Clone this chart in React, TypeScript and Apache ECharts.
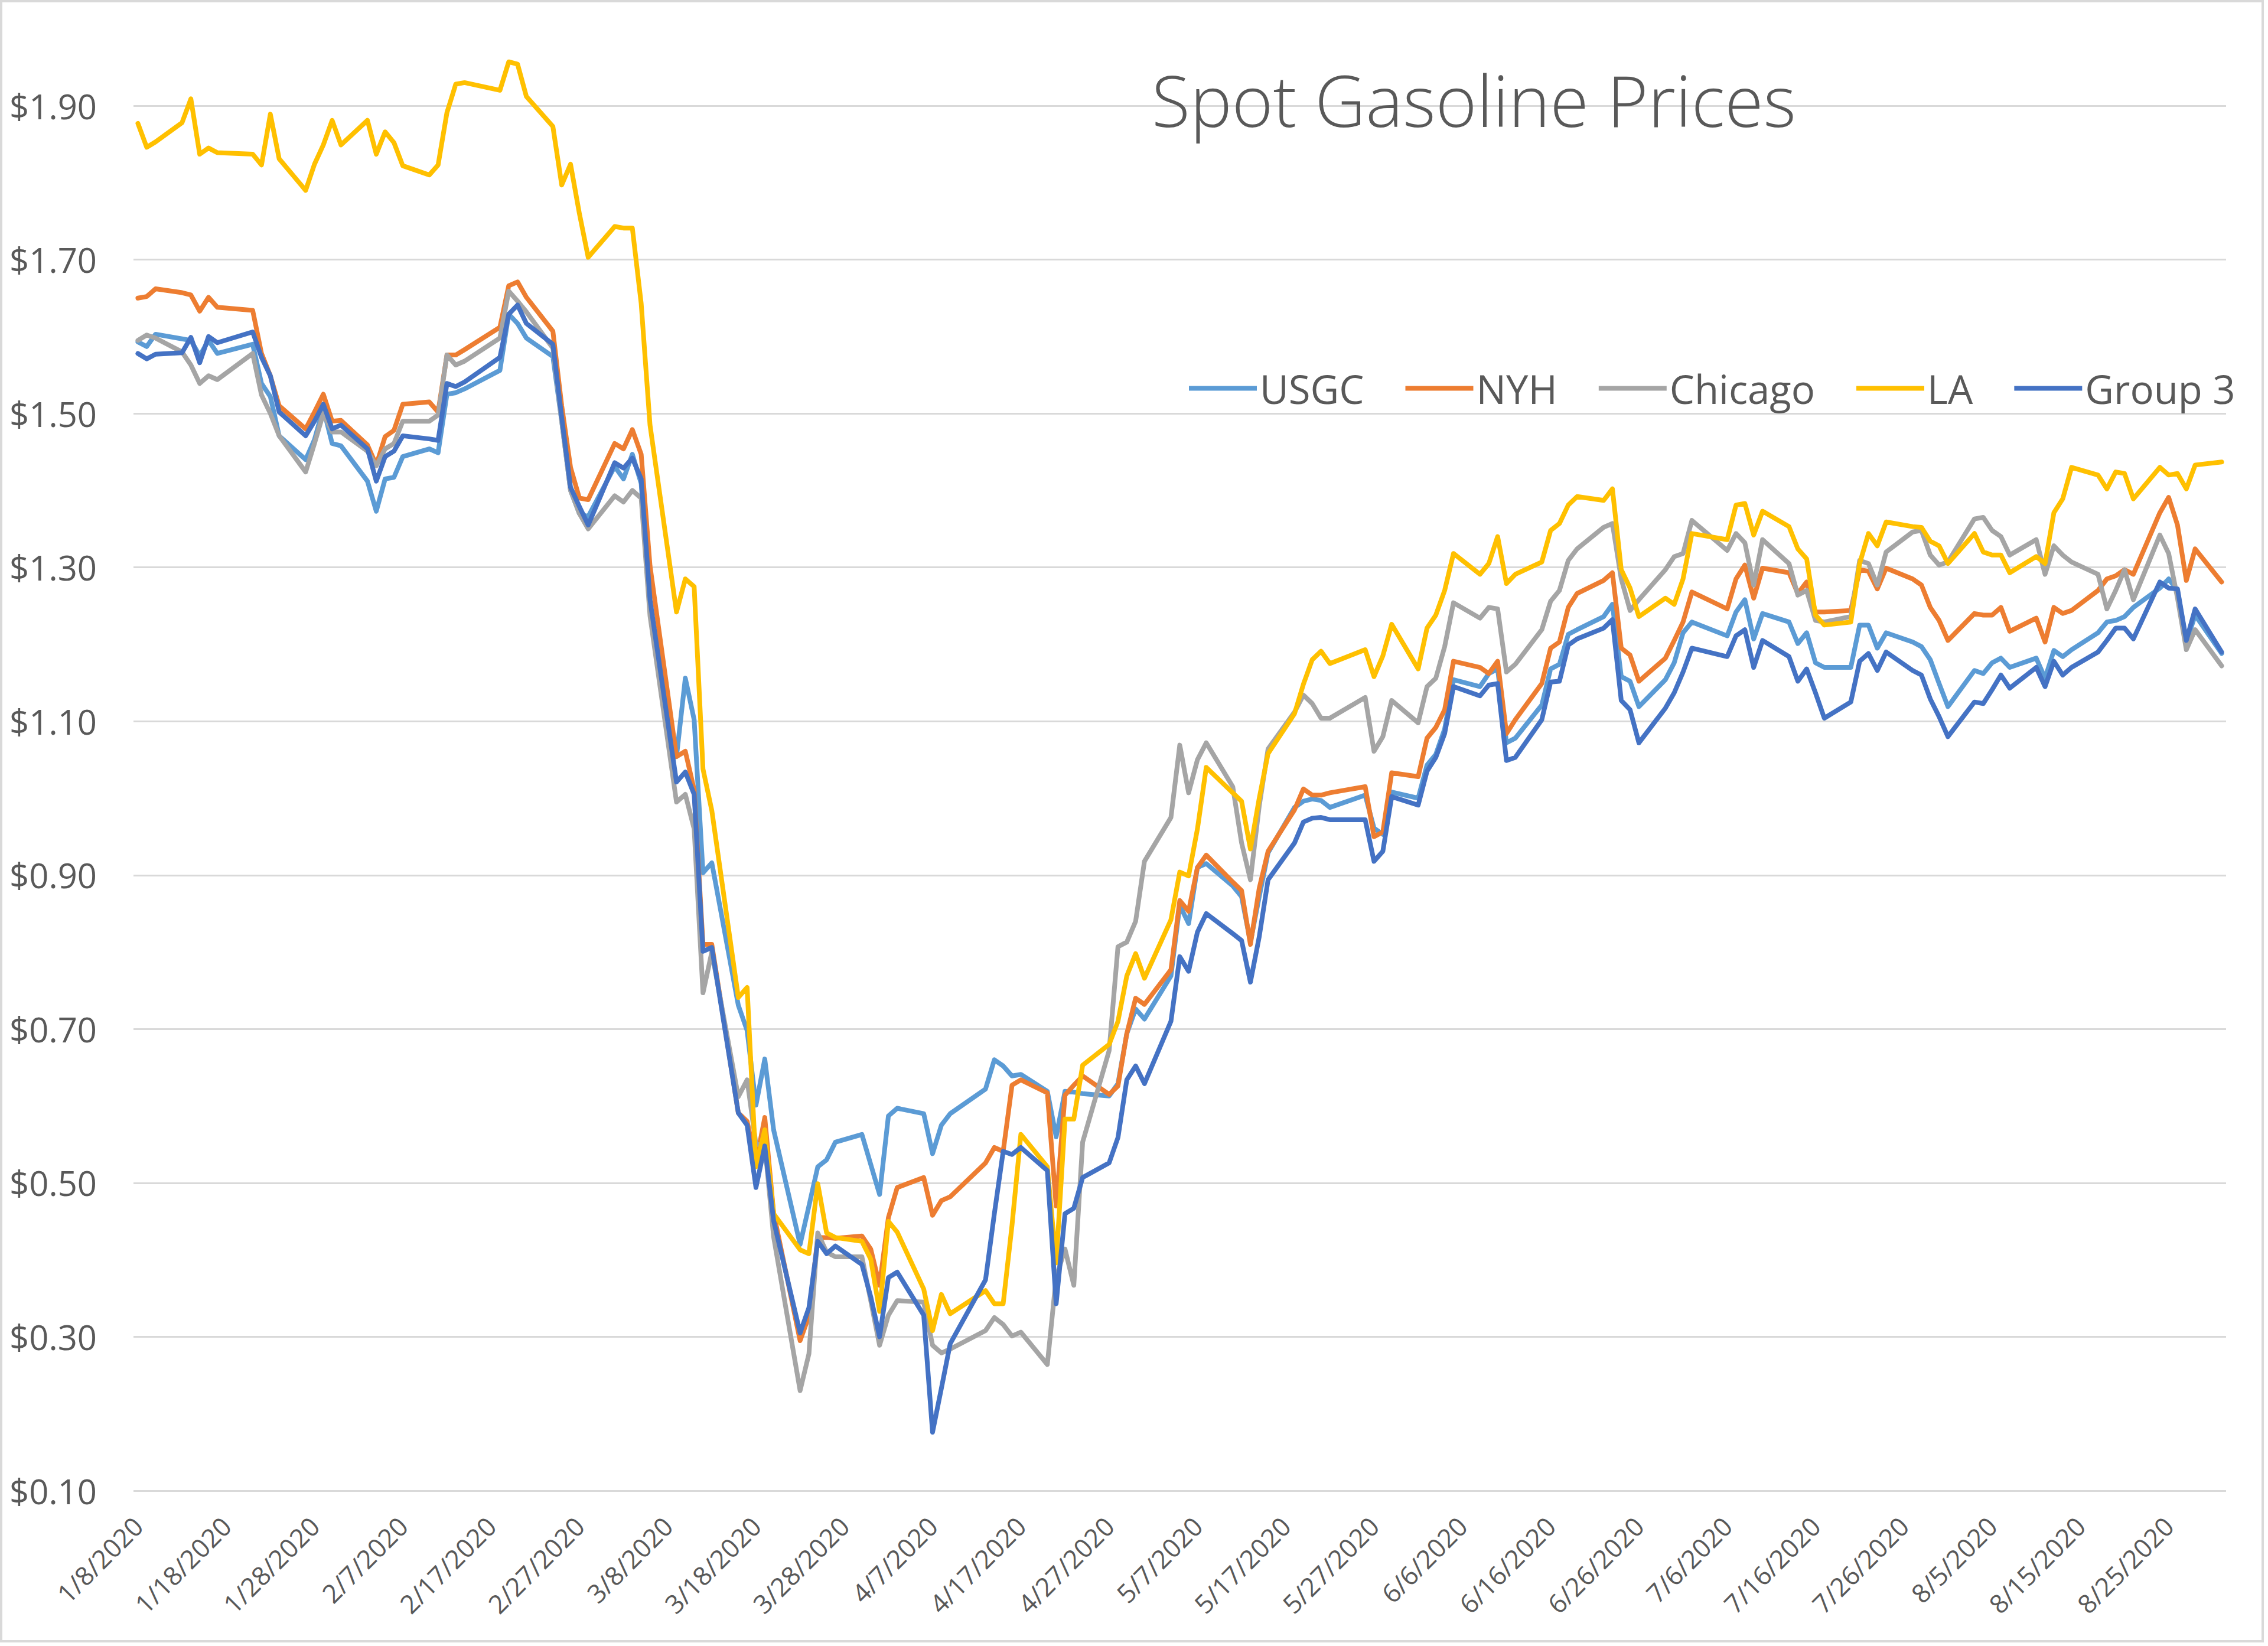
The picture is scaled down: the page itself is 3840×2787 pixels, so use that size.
import React, { useEffect, useRef } from "react";
import * as echarts from "echarts";

// Business days with data (M/D/2020)
const dates = [
  // Jan
  "1/8/2020","1/9/2020","1/10/2020","1/13/2020","1/14/2020","1/15/2020","1/16/2020","1/17/2020","1/21/2020","1/22/2020","1/23/2020","1/24/2020","1/27/2020","1/28/2020","1/29/2020","1/30/2020","1/31/2020",
  // Feb
  "2/3/2020","2/4/2020","2/5/2020","2/6/2020","2/7/2020","2/10/2020","2/11/2020","2/12/2020","2/13/2020","2/14/2020","2/18/2020","2/19/2020","2/20/2020","2/21/2020","2/24/2020","2/25/2020","2/26/2020","2/27/2020","2/28/2020",
  // Mar
  "3/2/2020","3/3/2020","3/4/2020","3/5/2020","3/6/2020","3/9/2020","3/10/2020","3/11/2020","3/12/2020","3/13/2020","3/16/2020","3/17/2020","3/18/2020","3/19/2020","3/20/2020","3/23/2020","3/24/2020","3/25/2020","3/26/2020","3/27/2020","3/30/2020","3/31/2020",
  // Apr
  "4/1/2020","4/2/2020","4/3/2020","4/6/2020","4/7/2020","4/8/2020","4/9/2020","4/13/2020","4/14/2020","4/15/2020","4/16/2020","4/17/2020","4/20/2020","4/21/2020","4/22/2020","4/23/2020","4/24/2020","4/27/2020","4/28/2020","4/29/2020","4/30/2020",
  // May
  "5/1/2020","5/4/2020","5/5/2020","5/6/2020","5/7/2020","5/8/2020","5/11/2020","5/12/2020","5/13/2020","5/14/2020","5/15/2020","5/18/2020","5/19/2020","5/20/2020","5/21/2020","5/22/2020","5/26/2020","5/27/2020","5/28/2020","5/29/2020",
  // Jun
  "6/1/2020","6/2/2020","6/3/2020","6/4/2020","6/5/2020","6/8/2020","6/9/2020","6/10/2020","6/11/2020","6/12/2020","6/15/2020","6/16/2020","6/17/2020","6/18/2020","6/19/2020","6/22/2020","6/23/2020","6/24/2020","6/25/2020","6/26/2020","6/29/2020","6/30/2020",
  // Jul
  "7/1/2020","7/2/2020","7/6/2020","7/7/2020","7/8/2020","7/9/2020","7/10/2020","7/13/2020","7/14/2020","7/15/2020","7/16/2020","7/17/2020","7/20/2020","7/21/2020","7/22/2020","7/23/2020","7/24/2020","7/27/2020","7/28/2020","7/29/2020","7/30/2020","7/31/2020",
  // Aug
  "8/3/2020","8/4/2020","8/5/2020","8/6/2020","8/7/2020","8/10/2020","8/11/2020","8/12/2020","8/13/2020","8/14/2020","8/17/2020","8/18/2020","8/19/2020","8/20/2020","8/21/2020","8/24/2020","8/25/2020","8/26/2020","8/27/2020","8/28/2020","8/31/2020",
];

const usgc = [
  1.593,1.587,1.603,1.597,1.595,1.575,1.595,1.578,1.590,1.539,1.522,1.471,1.440,1.466,1.507,1.461,1.458,
  1.412,1.373,1.415,1.417,1.444,1.454,1.449,1.525,1.527,1.532,1.556,1.629,1.617,1.598,1.574,1.490,1.400,1.370,1.366,
  1.431,1.415,1.447,1.409,1.248,1.054,1.156,1.102,0.903,0.916,0.731,0.698,0.601,0.661,0.569,0.420,0.470,0.521,0.530,0.553,0.563,0.524,
  0.485,0.587,0.597,0.590,0.538,0.575,0.590,0.622,0.660,0.652,0.639,0.641,0.619,0.560,0.619,0.618,0.616,0.613,0.629,0.694,0.726,
  0.713,0.769,0.861,0.837,0.910,0.915,0.886,0.872,0.813,0.872,0.929,0.988,0.996,0.999,0.997,0.988,1.004,0.961,0.953,1.008,
  1.000,1.043,1.057,1.090,1.154,1.145,1.162,1.168,1.072,1.078,1.121,1.168,1.174,1.213,1.219,1.236,1.252,1.158,1.152,1.119,1.154,1.176,
  1.215,1.229,1.211,1.242,1.258,1.207,1.240,1.229,1.201,1.215,1.176,1.170,1.170,1.225,1.225,1.195,1.215,1.203,1.197,1.180,1.149,1.119,
  1.166,1.162,1.176,1.182,1.170,1.182,1.156,1.192,1.184,1.193,1.215,1.229,1.231,1.236,1.248,1.273,1.285,1.270,1.203,1.238,1.188,
];

const nyh = [
  1.650,1.652,1.662,1.657,1.654,1.633,1.651,1.638,1.634,1.578,1.549,1.510,1.480,1.502,1.525,1.490,1.491,
  1.459,1.433,1.470,1.478,1.512,1.515,1.502,1.576,1.576,1.583,1.612,1.666,1.671,1.651,1.607,1.510,1.430,1.390,1.388,
  1.461,1.454,1.479,1.447,1.302,1.054,1.061,1.011,0.810,0.810,0.591,0.580,0.526,0.585,0.461,0.295,0.327,0.429,0.429,0.428,0.431,0.414,
  0.367,0.455,0.494,0.507,0.458,0.477,0.482,0.526,0.546,0.541,0.627,0.634,0.617,0.470,0.614,0.627,0.639,0.615,0.626,0.694,0.740,
  0.732,0.777,0.867,0.853,0.910,0.926,0.891,0.880,0.810,0.883,0.931,0.985,1.012,1.004,1.004,1.007,1.015,0.950,0.956,1.033,
  1.028,1.078,1.092,1.115,1.178,1.170,1.162,1.178,1.084,1.102,1.149,1.195,1.203,1.248,1.266,1.283,1.293,1.195,1.186,1.152,1.182,1.205,
  1.229,1.268,1.246,1.285,1.303,1.260,1.299,1.293,1.266,1.281,1.242,1.242,1.244,1.297,1.295,1.272,1.299,1.285,1.277,1.248,1.231,1.205,
  1.240,1.238,1.238,1.248,1.217,1.234,1.203,1.248,1.240,1.244,1.270,1.285,1.289,1.297,1.291,1.371,1.391,1.355,1.283,1.324,1.281,
];

const chicago = [
  1.595,1.602,1.598,1.580,1.563,1.539,1.549,1.544,1.578,1.524,1.500,1.471,1.424,1.461,1.500,1.476,1.476,
  1.451,1.432,1.454,1.461,1.490,1.490,1.498,1.576,1.563,1.568,1.598,1.659,1.646,1.632,1.585,1.490,1.400,1.370,1.350,
  1.393,1.385,1.400,1.390,1.237,0.995,1.005,0.960,0.747,0.800,0.612,0.634,0.550,0.550,0.430,0.230,0.278,0.435,0.410,0.404,0.404,0.347,
  0.289,0.328,0.347,0.345,0.289,0.279,0.284,0.308,0.325,0.316,0.301,0.306,0.264,0.377,0.414,0.367,0.553,0.672,0.807,0.813,0.840,
  0.918,0.975,1.069,1.007,1.050,1.072,1.015,0.942,0.894,0.990,1.064,1.112,1.134,1.123,1.104,1.104,1.131,1.061,1.080,1.127,
  1.098,1.145,1.156,1.197,1.254,1.234,1.248,1.246,1.164,1.174,1.219,1.256,1.270,1.309,1.324,1.352,1.357,1.285,1.244,1.258,1.297,1.314,
  1.318,1.361,1.322,1.344,1.332,1.277,1.336,1.305,1.264,1.270,1.231,1.229,1.236,1.309,1.305,1.277,1.320,1.346,1.348,1.316,1.303,1.307,
  1.363,1.365,1.348,1.340,1.316,1.336,1.291,1.328,1.316,1.307,1.291,1.246,1.270,1.297,1.258,1.342,1.318,1.260,1.193,1.219,1.172,
];

const la = [
  1.877,1.846,1.853,1.878,1.909,1.837,1.845,1.839,1.837,1.823,1.889,1.831,1.790,1.824,1.849,1.881,1.849,
  1.881,1.837,1.866,1.852,1.822,1.810,1.823,1.891,1.928,1.930,1.920,1.957,1.954,1.912,1.873,1.797,1.824,1.760,1.703,
  1.743,1.741,1.741,1.643,1.485,1.242,1.285,1.275,1.038,0.984,0.741,0.754,0.521,0.569,0.460,0.413,0.408,0.499,0.435,0.429,0.424,0.401,
  0.333,0.450,0.436,0.362,0.308,0.355,0.330,0.360,0.343,0.343,0.445,0.563,0.521,0.396,0.583,0.583,0.653,0.680,0.710,0.769,0.798,
  0.766,0.842,0.904,0.899,0.960,1.040,1.007,0.996,0.934,1.000,1.058,1.110,1.148,1.180,1.191,1.175,1.193,1.158,1.185,1.226,
  1.168,1.221,1.238,1.270,1.318,1.291,1.305,1.340,1.279,1.291,1.307,1.348,1.357,1.381,1.392,1.387,1.402,1.297,1.273,1.236,1.260,1.252,
  1.285,1.344,1.336,1.381,1.383,1.342,1.373,1.353,1.324,1.311,1.238,1.225,1.229,1.305,1.344,1.328,1.359,1.353,1.352,1.334,1.328,1.305,
  1.344,1.320,1.316,1.316,1.293,1.314,1.305,1.371,1.389,1.430,1.420,1.402,1.424,1.422,1.389,1.430,1.420,1.422,1.402,1.433,1.437,
];

const group3 = [
  1.578,1.571,1.577,1.579,1.599,1.566,1.600,1.592,1.606,1.573,1.549,1.502,1.471,1.490,1.512,1.480,1.485,
  1.454,1.412,1.444,1.451,1.471,1.467,1.465,1.539,1.535,1.541,1.573,1.629,1.641,1.617,1.590,1.495,1.404,1.379,1.355,
  1.436,1.429,1.442,1.415,1.258,1.021,1.034,1.005,0.801,0.806,0.591,0.575,0.494,0.548,0.451,0.305,0.338,0.424,0.408,0.418,0.394,0.352,
  0.300,0.377,0.384,0.328,0.176,0.233,0.291,0.374,0.460,0.541,0.537,0.546,0.516,0.343,0.460,0.467,0.507,0.526,0.559,0.634,0.652,
  0.629,0.710,0.794,0.775,0.826,0.850,0.824,0.815,0.761,0.820,0.894,0.942,0.969,0.974,0.975,0.972,0.972,0.918,0.931,1.002,
  0.991,1.035,1.053,1.084,1.145,1.133,1.147,1.149,1.049,1.053,1.102,1.151,1.152,1.199,1.207,1.221,1.232,1.127,1.115,1.072,1.117,1.137,
  1.164,1.195,1.184,1.211,1.219,1.170,1.205,1.184,1.152,1.168,1.137,1.104,1.125,1.178,1.188,1.166,1.190,1.166,1.160,1.129,1.106,1.080,
  1.125,1.123,1.141,1.160,1.143,1.170,1.145,1.178,1.160,1.170,1.190,1.205,1.221,1.221,1.207,1.281,1.273,1.272,1.205,1.246,1.190,
];

const seriesNames = ["USGC", "NYH", "Chicago", "LA", "Group 3"];
const seriesColors = ["#5B9BD5", "#ED7D31", "#A5A5A5", "#FFC000", "#4472C4"];
const seriesValues = [usgc, nyh, chicago, la, group3];

// Y axis ticks: $0.10 .. $1.90 every $0.20
const yMin = 0.1;
const yMax = 1.9;
const yStep = 0.2;

// Date axis: one category per calendar day, first to last date
const axisStart = "1/8/2020";
const axisEnd = "8/31/2020";
const labelEvery = 10; // days between axis labels

function parseMDY(s: string) {
  const [m, d, y] = s.split("/").map(Number);
  return Date.UTC(y, m - 1, d);
}
function fmtMDY(t: number) {
  const dt = new Date(t);
  return `${dt.getUTCMonth() + 1}/${dt.getUTCDate()}/${dt.getUTCFullYear()}`;
}

const DAY = 86400000;
const t0 = parseMDY(axisStart);
const nDays = Math.round((parseMDY(axisEnd) - t0) / DAY) + 1;
const calendar: string[] = [];
for (let i = 0; i < nDays; i++) calendar.push(fmtMDY(t0 + i * DAY));
const dayIndex = (s: string) => Math.round((parseMDY(s) - t0) / DAY);

const FONT = "Open Sans";
const TEXT = "#595959";

export default function App() {
  const ref = useRef<HTMLDivElement>(null);
  useEffect(() => {
    if (!ref.current) return;
    const chart = echarts.init(ref.current, null, { renderer: "svg" });
    const option: any = {
      animation: false,
      backgroundColor: "#ffffff",
      title: {
        text: "Spot Gasoline Prices",
        left: 1945,
        top: 104,
        textStyle: { fontFamily: FONT, fontSize: 119, fontWeight: 300, color: TEXT },
      },
      legend: {
        data: seriesNames,
        left: 2008,
        top: 619,
        icon: "rect",
        itemWidth: 115,
        itemHeight: 8,
        itemGap: 70,
        textStyle: { fontFamily: FONT, fontSize: 67, color: TEXT },
      },
      grid: { left: 226, right: 71, top: 179, bottom: 263, containLabel: false },
      xAxis: {
        type: "category",
        data: calendar,
        boundaryGap: true,
        axisLine: { show: false },
        axisTick: { show: false },
        splitLine: { show: false },
        axisLabel: {
          interval: labelEvery - 1,
          rotate: 45,
          margin: 52,
          fontFamily: FONT,
          fontSize: 44,
          color: TEXT,
        },
      },
      yAxis: {
        type: "value",
        min: yMin,
        max: yMax,
        interval: yStep,
        axisLine: { show: false },
        axisTick: { show: false },
        splitLine: { lineStyle: { color: "#D9D9D9", width: 3 } },
        axisLabel: {
          margin: 62,
          fontFamily: FONT,
          fontSize: 58,
          color: TEXT,
          formatter: (v: number) => "$" + v.toFixed(2),
        },
      },
      graphic: [
        {
          type: "rect",
          silent: true,
          z: 100,
          shape: { x: 2, y: 2, width: 3829, height: 2777 },
          style: { fill: "none", stroke: "#D9D9D9", lineWidth: 4 },
        },
      ],
      series: seriesNames.map((name, k) => ({
        name,
        type: "line",
        clip: false,
        symbol: "none",
        showSymbol: false,
        color: seriesColors[k],
        lineStyle: { color: seriesColors[k], width: 8, join: "round", cap: "round" },
        data: dates.map((d, i) => [dayIndex(d), seriesValues[k][i]]),
      })),
    };
    chart.setOption(option);
    return () => chart.dispose();
  }, []);
  return (
    <div
      ref={ref}
      style={{ position: "fixed", left: 0, top: 0, width: 3840, height: 2787, background: "#ffffff" }}
    />
  );
}
